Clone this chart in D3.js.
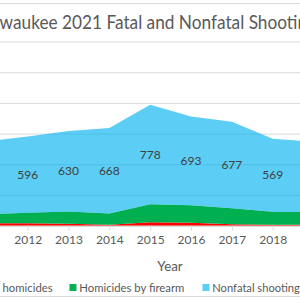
<!DOCTYPE html>
<html><head><meta charset="utf-8">
<script src="https://cdn.jsdelivr.net/npm/d3@7"></script>
<style>html,body{margin:0;padding:0;background:#fff;overflow:hidden}svg{display:block}text{font-family:Lato,"Open Sans",sans-serif}</style>
</head><body><svg id="c" width="300" height="300"></svg>
<script>
const title = "Milwaukee 2021 Fatal and Nonfatal Shootings";
const years = [2011, 2012, 2013, 2014, 2015, 2016, 2017, 2018, 2019];
const labeledYears = [2012, 2013, 2014, 2015, 2016, 2017, 2018];
const nonFirearm = [20, 20, 16, 8, 26, 24, 12, 8, 8];
const firearm = [69, 82, 95, 88, 142, 136, 124, 102, 98];
const nonfatal = [570, 596, 630, 668, 778, 693, 677, 569, 550];
const seriesNames = ["Non-firearm homicides", "Homicides by firearm", "Nonfatal shootings"];
const gridValues = [0, 240, 480, 720, 960, 1200, 1440];
const axisTitle = "Year";

const colors = ["#FF0000", "#00B050", "#00B0F0"];
const opac = [1, 1, 0.64];

const svg = d3.select("#c");
svg.append("rect").attr("width", 300).attr("height", 300).attr("fill", "#fff");

const x = d3.scaleLinear().domain([2012, 2018]).range([27.7, 272.7]);
const y = d3.scaleLinear().domain([0, 1440]).range([225.7, 41.5]);

// chart border (top & bottom visible)
svg.append("line").attr("x1", 0).attr("x2", 300).attr("y1", 3.5).attr("y2", 3.5).attr("stroke", "#D9D9D9");
svg.append("line").attr("x1", 0).attr("x2", 300).attr("y1", 296.5).attr("y2", 296.5).attr("stroke", "#D9D9D9");

// title
svg.append("text").attr("x", 149.5).attr("y", 29).attr("text-anchor", "middle")
  .attr("font-size", 18.67).attr("fill", "#595959")
  .attr("textLength", 348).attr("lengthAdjust", "spacingAndGlyphs").text(title);

// gridlines
const yAxis = d3.axisLeft(y).tickValues(gridValues).tickSize(-400).tickFormat("");
const gGrid = svg.append("g").attr("transform", "translate(-50,0)").call(yAxis);
gGrid.select(".domain").remove();
gGrid.selectAll(".tick line").attr("stroke", "#D9D9D9").attr("stroke-width", 1);

// stacked areas
const table = years.map((yr, i) => ({ year: yr, a: nonFirearm[i], b: firearm[i], c: nonfatal[i] }));
const stacked = d3.stack().keys(["a", "b", "c"])(table);
const area = d3.area().x(d => x(d.data.year)).y0(d => y(d[0])).y1(d => y(d[1]));
svg.append("g").selectAll("path").data(stacked).join("path")
  .attr("d", area).attr("fill", (d, i) => colors[i]).attr("fill-opacity", (d, i) => opac[i]);

// x axis ticks (all categories) and labels (visible ones)
const xTicks = d3.axisBottom(x).tickValues(years).tickFormat("").tickSize(5);
const gx = svg.append("g").attr("transform", "translate(0,225.7)").call(xTicks);
gx.select(".domain").attr("stroke", "#D9D9D9").attr("d", "M-50,0.5H350");
gx.selectAll(".tick line").attr("stroke", "#D9D9D9");
const xLabels = d3.axisBottom(x).tickValues(labeledYears).tickFormat(d3.format("d")).tickSize(0);
const gxl = svg.append("g").attr("transform", "translate(0,225.7)").call(xLabels);
gxl.select(".domain").remove();
gxl.selectAll(".tick text").attr("fill", "#595959").attr("font-size", 12)
  .attr("font-family", "Lato,'Open Sans',sans-serif").attr("y", 10).attr("dy", "0.71em");

// data labels for nonfatal (visible categories)
const topSeries = stacked[2].filter(d => labeledYears.includes(d.data.year));
svg.append("g").selectAll("text").data(topSeries).join("text")
  .attr("x", d => x(d.data.year)).attr("y", d => (y(d[0]) + y(d[1])) / 2)
  .attr("dy", "0.35em").attr("text-anchor", "middle").attr("font-size", 12)
  .attr("fill", "#404040").text(d => d.data.c);

// axis title
svg.append("text").attr("x", 170).attr("y", 270.5).attr("text-anchor", "middle")
  .attr("font-size", 13.33).attr("fill", "#595959").text(axisTitle);

// legend
const legend = [
  { sx: -72, tx: 52.7, anchor: "end", w: 114 },
  { sx: 69.5, tx: 79.3, anchor: "start", w: 105 },
  { sx: 202.5, tx: 212.3, anchor: "start", w: 92.3 }
];
const lg = svg.append("g");
legend.forEach((l, i) => {
  lg.append("rect").attr("x", l.sx).attr("y", 284).attr("width", 7).attr("height", 7)
    .attr("fill", colors[i]).attr("fill-opacity", opac[i]);
  lg.append("text").attr("x", l.tx).attr("y", 291.5).attr("text-anchor", l.anchor)
    .attr("font-size", 12).attr("fill", "#595959")
    .attr("textLength", l.w).attr("lengthAdjust", "spacingAndGlyphs").text(seriesNames[i]);
});
</script></body></html>
